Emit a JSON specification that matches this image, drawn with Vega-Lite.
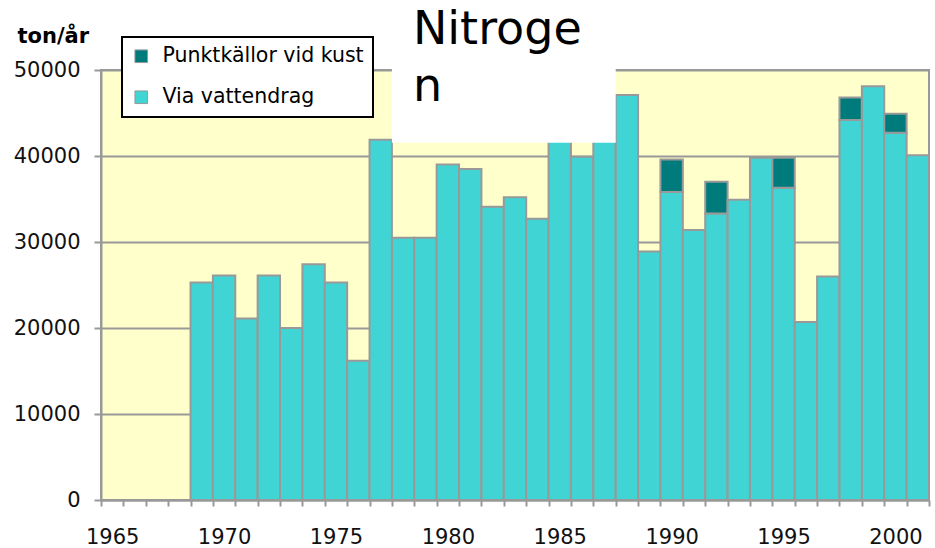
{
  "$schema": "https://vega.github.io/schema/vega-lite/v6.json",
  "width": 828,
  "height": 430,
  "autosize": {"type": "none"},
  "padding": {"left": 101, "top": 70, "right": 6, "bottom": 48},
  "background": "white",
  "config": {
    "font": "DejaVu Sans",
    "view": {"fill": "#ffffcc", "stroke": "#999999", "strokeWidth": 2},
    "legend": {"strokeWidth": 2}
  },
  "datasets": {
    "loads": [
      {"year": 1969, "source": "Via vattendrag", "value": 25300},
      {"year": 1970, "source": "Via vattendrag", "value": 26100},
      {"year": 1971, "source": "Via vattendrag", "value": 21100},
      {"year": 1972, "source": "Via vattendrag", "value": 26100},
      {"year": 1973, "source": "Via vattendrag", "value": 20000},
      {"year": 1974, "source": "Via vattendrag", "value": 27400},
      {"year": 1975, "source": "Via vattendrag", "value": 25300},
      {"year": 1976, "source": "Via vattendrag", "value": 16200},
      {"year": 1977, "source": "Via vattendrag", "value": 41900},
      {"year": 1978, "source": "Via vattendrag", "value": 30500},
      {"year": 1979, "source": "Via vattendrag", "value": 30500},
      {"year": 1980, "source": "Via vattendrag", "value": 39000},
      {"year": 1981, "source": "Via vattendrag", "value": 38500},
      {"year": 1982, "source": "Via vattendrag", "value": 34100},
      {"year": 1983, "source": "Via vattendrag", "value": 35200},
      {"year": 1984, "source": "Via vattendrag", "value": 32700},
      {"year": 1985, "source": "Via vattendrag", "value": 44500},
      {"year": 1986, "source": "Via vattendrag", "value": 39900},
      {"year": 1987, "source": "Via vattendrag", "value": 45000},
      {"year": 1988, "source": "Via vattendrag", "value": 47100},
      {"year": 1989, "source": "Via vattendrag", "value": 28900},
      {"year": 1990, "source": "Via vattendrag", "value": 35800},
      {"year": 1990, "source": "Punktkällor vid kust", "value": 3800},
      {"year": 1991, "source": "Via vattendrag", "value": 31400},
      {"year": 1992, "source": "Via vattendrag", "value": 33300},
      {"year": 1992, "source": "Punktkällor vid kust", "value": 3700},
      {"year": 1993, "source": "Via vattendrag", "value": 34900},
      {"year": 1994, "source": "Via vattendrag", "value": 39800},
      {"year": 1995, "source": "Via vattendrag", "value": 36300},
      {"year": 1995, "source": "Punktkällor vid kust", "value": 3500},
      {"year": 1996, "source": "Via vattendrag", "value": 20700},
      {"year": 1997, "source": "Via vattendrag", "value": 26000},
      {"year": 1998, "source": "Via vattendrag", "value": 44200},
      {"year": 1998, "source": "Punktkällor vid kust", "value": 2600},
      {"year": 1999, "source": "Via vattendrag", "value": 48100},
      {"year": 2000, "source": "Via vattendrag", "value": 42700},
      {"year": 2000, "source": "Punktkällor vid kust", "value": 2200},
      {"year": 2001, "source": "Via vattendrag", "value": 40100}
    ]
  },
  "layer": [
    {
      "data": {"name": "loads"},
      "mark": {"type": "bar", "stroke": "#999999", "strokeWidth": 2},
      "encoding": {
        "x": {
          "field": "year",
          "type": "ordinal",
          "title": null,
          "scale": {
            "domain": [1965, 1966, 1967, 1968, 1969, 1970, 1971, 1972, 1973, 1974, 1975, 1976, 1977, 1978, 1979, 1980, 1981, 1982, 1983, 1984, 1985, 1986, 1987, 1988, 1989, 1990, 1991, 1992, 1993, 1994, 1995, 1996, 1997, 1998, 1999, 2000, 2001],
            "paddingInner": 0,
            "paddingOuter": 0
          },
          "axis": {
            "title": null,
            "labelAngle": 0,
            "tickBand": "extent",
            "labelExpr": "datum.value % 5 === 0 ? datum.label : ''",
            "labelOverlap": false,
            "tickSize": 6,
            "tickWidth": 2,
            "tickColor": "#999999",
            "domainColor": "#999999",
            "domainWidth": 2,
            "labelPadding": 20,
            "labelBaseline": "top",
            "labelFont": "DejaVu Sans",
            "labelFontSize": 21,
            "labelColor": "#111111",
            "grid": false
          }
        },
        "y": {
          "field": "value",
          "type": "quantitative",
          "title": "ton/år",
          "stack": "zero",
          "scale": {"domain": [0, 50000], "nice": false},
          "axis": {
            "title": "ton/år",
            "titleAngle": 0,
            "titleX": -84,
            "titleY": -28,
            "titleAlign": "left",
            "titleBaseline": "alphabetic",
            "titleFont": "DejaVu Sans",
            "titleFontWeight": "bold",
            "titleFontSize": 21,
            "titleColor": "#000000",
            "values": [0, 10000, 20000, 30000, 40000, 50000],
            "format": "d",
            "tickSize": 7,
            "tickWidth": 2,
            "tickColor": "#999999",
            "domainColor": "#999999",
            "domainWidth": 2,
            "labelPadding": 14,
            "labelFont": "DejaVu Sans",
            "labelFontSize": 21,
            "labelColor": "#111111",
            "grid": true,
            "gridColor": "#999999",
            "gridWidth": 2,
            "zindex": 0
          }
        },
        "color": {
          "field": "source",
          "type": "nominal",
          "scale": {
            "domain": ["Punktkällor vid kust", "Via vattendrag"],
            "range": ["#007b7b", "#40d4d4"]
          },
          "legend": {
            "title": null,
            "orient": "none",
            "legendX": 21,
            "legendY": -33,
            "fillColor": "white",
            "strokeColor": "black",
            "padding": 9,
            "labelFont": "DejaVu Sans",
            "labelFontSize": 20.5,
            "labelColor": "#000000",
            "labelLimit": 400,
            "labelOffset": 11,
            "symbolType": "square",
            "symbolSize": 160,
            "symbolStrokeColor": "#999999",
            "symbolStrokeWidth": 1,
            "rowPadding": 20
          }
        },
        "order": {"field": "source", "sort": "descending"}
      }
    },
    {
      "data": {"values": [{}]},
      "mark": {"type": "rect", "fill": "white"},
      "encoding": {
        "x": {"datum": 1978, "type": "ordinal", "bandPosition": 0, "title": null},
        "x2": {"datum": 1988, "bandPosition": 0},
        "y": {"datum": 41550, "type": "quantitative", "title": "ton/år"},
        "y2": {"datum": 58300}
      }
    },
    {
      "data": {"values": [{}]},
      "mark": {
        "type": "text",
        "align": "left",
        "baseline": "alphabetic",
        "dx": 21,
        "font": "DejaVu Sans",
        "fontSize": 46,
        "lineHeight": 57,
        "color": "#000000"
      },
      "encoding": {
        "x": {"datum": 1978, "type": "ordinal", "bandPosition": 0, "title": null},
        "y": {"datum": 53000, "type": "quantitative", "title": "ton/år"},
        "text": {"value": ["Nitroge", "n"]}
      }
    }
  ]
}
